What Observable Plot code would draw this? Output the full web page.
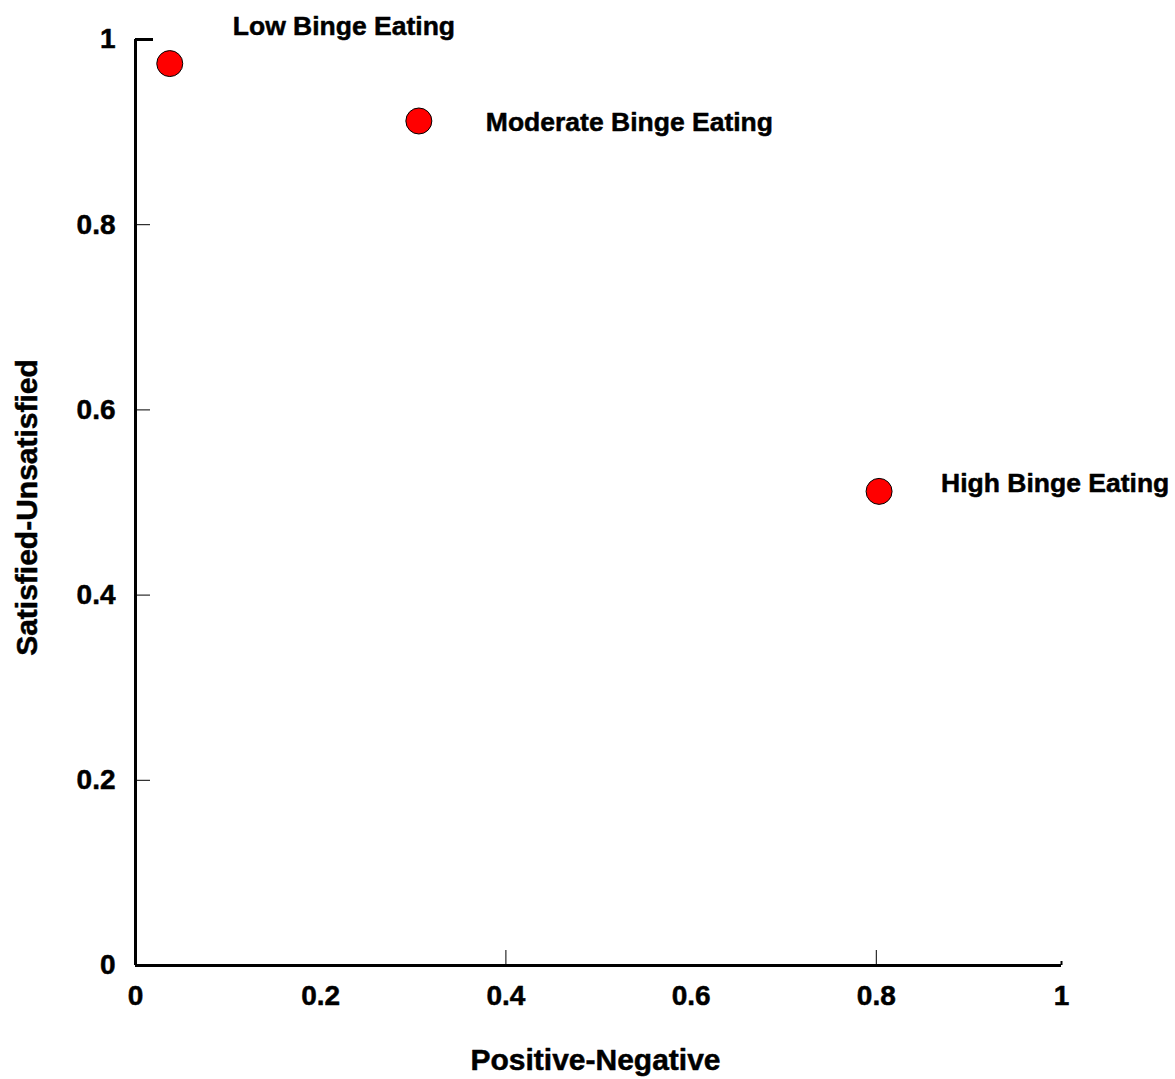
<!DOCTYPE html>
<html>
<head>
<meta charset="utf-8">
<script src="https://cdn.jsdelivr.net/npm/d3@7"></script>
<script src="https://cdn.jsdelivr.net/npm/@observablehq/plot@0.6"></script>
<style>
  html, body { margin: 0; padding: 0; background: #fff; }
  #chart { width: 1175px; height: 1079px; }
</style>
</head>
<body>
<div id="chart"></div>
<script>
// ---- data ----
const groups = ["Low Binge Eating", "Moderate Binge Eating", "High Binge Eating"];
const positiveNegative = [0.037, 0.306, 0.803];
const satisfiedUnsatisfied = [0.974, 0.912, 0.512];
const xTickLabels = [0, 0.2, 0.4, 0.6, 0.8, 1];
const yTickLabels = [0, 0.2, 0.4, 0.6, 0.8, 1];
const xTickMarks = [0.4, 0.8];
const yTickMarks = [0.2, 0.4, 0.6, 0.8];
const xTitle = "Positive-Negative";
const yTitle = "Satisfied-Unsatisfied";

const points = groups.map((g, i) => ({group: g, x: positiveNegative[i], y: satisfiedUnsatisfied[i]}));

// ---- layout (styles / offsets) ----
const W = 1175, H = 1079;
const mL = 135, mR = 114, mT = 39, mB = 114;
const innerW = W - mL - mR, innerH = H - mT - mB;
const labelOffsets = {
  "Low Binge Eating": {dx: 63, dy: -37},
  "Moderate Binge Eating": {dx: 67, dy: 2},
  "High Binge Eating": {dx: 62, dy: -8}
};
const fmt = d => String(d);
const bold = {fontWeight: "bold", fill: "#000", stroke: "#000", strokeWidth: 0.5};

const labelMarks = points.map(p => Plot.text([p], {
  x: "x", y: "y", text: "group",
  textAnchor: "start", lineAnchor: "middle",
  dx: labelOffsets[p.group].dx, dy: labelOffsets[p.group].dy,
  fontSize: 26.5, ...bold
}));

const chart = Plot.plot({
  width: W, height: H,
  marginLeft: mL, marginRight: mR, marginTop: mT, marginBottom: mB,
  style: {fontFamily: "'Liberation Sans', Arial, sans-serif", fontWeight: "bold", background: "#fff", color: "#000"},
  x: {domain: [0, 1], axis: null},
  y: {domain: [0, 1], axis: null},
  marks: [
    // inward ticks
    Plot.tickY(yTickMarks, {y: d => d, insetRight: innerW - 15, stroke: "#000", strokeWidth: 1}),
    Plot.tickX(xTickMarks, {x: d => d, insetTop: innerH - 15, stroke: "#000", strokeWidth: 1}),
    Plot.tickY([1], {y: d => d, insetRight: innerW - 18, stroke: "#000", strokeWidth: 3}),
    Plot.tickX([1], {x: d => d, insetTop: innerH - 4, stroke: "#000", strokeWidth: 2}),
    // axis lines
    Plot.ruleX([0], {stroke: "#000", strokeWidth: 3}),
    Plot.ruleY([0], {stroke: "#000", strokeWidth: 3}),
    // tick labels
    Plot.text(xTickLabels, {x: d => d, frameAnchor: "bottom", text: fmt, lineAnchor: "top", dy: 20, fontSize: 28, ...bold}),
    Plot.text(yTickLabels, {y: d => d, frameAnchor: "left", text: fmt, textAnchor: "end", lineAnchor: "middle", dx: -20, fontSize: 28, ...bold}),
    // axis titles
    Plot.text([xTitle], {frameAnchor: "bottom", dx: -3, dy: 95, textAnchor: "middle", lineAnchor: "middle", fontSize: 30, ...bold}),
    Plot.text([yTitle], {frameAnchor: "left", dx: -108, dy: 5, rotate: -90, textAnchor: "middle", lineAnchor: "middle", fontSize: 30, ...bold}),
    // points
    Plot.dot(points, {x: "x", y: "y", r: 13, fill: "#ff0000", stroke: "#000", strokeWidth: 1}),
    ...labelMarks
  ]
});
document.getElementById("chart").appendChild(chart);
</script>
</body>
</html>
